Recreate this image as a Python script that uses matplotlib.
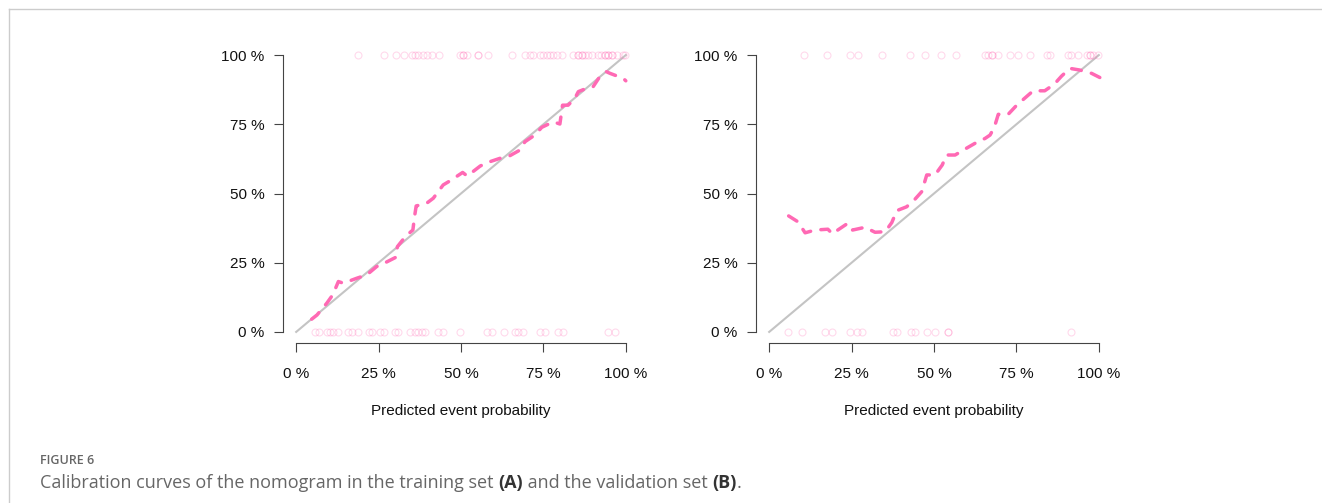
import numpy as np
import matplotlib
matplotlib.use('Agg')
import matplotlib.pyplot as plt
from matplotlib.lines import Line2D

# Training set (A): calibration curve
train_pred = [0.047, 0.063, 0.093, 0.111, 0.128, 0.143, 0.184, 0.214, 0.244, 0.270,
              0.303, 0.307, 0.333, 0.354, 0.359, 0.364, 0.396, 0.416, 0.446, 0.467,
              0.505, 0.519, 0.558, 0.578, 0.618, 0.643, 0.679, 0.694, 0.724, 0.745,
              0.780, 0.800, 0.808, 0.825, 0.845, 0.856, 0.881, 0.901, 0.921, 0.941,
              0.952, 0.992, 1.000]
train_obs = [0.046, 0.061, 0.104, 0.134, 0.182, 0.176, 0.194, 0.206, 0.236, 0.250,
             0.270, 0.308, 0.347, 0.368, 0.416, 0.455, 0.465, 0.483, 0.531, 0.546,
             0.576, 0.563, 0.599, 0.611, 0.627, 0.633, 0.657, 0.687, 0.711, 0.739,
             0.759, 0.751, 0.819, 0.819, 0.843, 0.868, 0.880, 0.886, 0.922, 0.940,
             0.934, 0.916, 0.907]
# Training set: predicted values of events (top rug) and non-events (bottom rug)
train_events = [0.189, 0.267, 0.302, 0.327, 0.351, 0.361, 0.371, 0.384, 0.396, 0.411,
                0.434, 0.497, 0.505, 0.505, 0.517, 0.552, 0.552, 0.583, 0.654, 0.694,
                0.709, 0.719, 0.739, 0.749, 0.760, 0.770, 0.780, 0.790, 0.805, 0.840,
                0.855, 0.855, 0.866, 0.866, 0.876, 0.886, 0.896, 0.916, 0.926, 0.936,
                0.936, 0.946, 0.946, 0.957, 0.957, 0.972, 0.992, 0.997]
train_nonevents = [0.058, 0.068, 0.093, 0.103, 0.113, 0.128, 0.158, 0.168, 0.189, 0.220,
                   0.230, 0.255, 0.265, 0.300, 0.310, 0.345, 0.361, 0.371, 0.381, 0.391,
                   0.431, 0.446, 0.497, 0.578, 0.593, 0.630, 0.664, 0.674, 0.689, 0.739,
                   0.755, 0.795, 0.808, 0.946, 0.967]

# Validation set (B): calibration curve
valid_pred = [0.059, 0.087, 0.109, 0.139, 0.178, 0.192, 0.198, 0.238, 0.253, 0.291,
              0.321, 0.352, 0.372, 0.387, 0.417, 0.442, 0.463, 0.478, 0.503, 0.525,
              0.538, 0.564, 0.589, 0.624, 0.655, 0.670, 0.683, 0.695, 0.725, 0.751,
              0.774, 0.801, 0.836, 0.865, 0.887, 0.912, 0.942, 0.978, 1.003]
valid_obs = [0.419, 0.398, 0.358, 0.368, 0.371, 0.354, 0.360, 0.392, 0.368, 0.378,
             0.360, 0.362, 0.395, 0.438, 0.452, 0.479, 0.507, 0.567, 0.567, 0.603,
             0.639, 0.639, 0.657, 0.681, 0.699, 0.711, 0.739, 0.786, 0.786, 0.819,
             0.843, 0.871, 0.871, 0.895, 0.924, 0.952, 0.946, 0.934, 0.919]
valid_events = [0.107, 0.175, 0.245, 0.269, 0.343, 0.427, 0.473, 0.521, 0.566, 0.655,
                0.665, 0.675, 0.675, 0.695, 0.730, 0.755, 0.791, 0.842, 0.852, 0.907,
                0.915, 0.937, 0.963, 0.973, 0.973, 0.983, 0.998]
valid_nonevents = [0.057, 0.099, 0.170, 0.192, 0.245, 0.266, 0.281, 0.377, 0.387, 0.430,
                   0.442, 0.478, 0.503, 0.541, 0.543, 0.917]

tick_values = [0, 0.25, 0.5, 0.75, 1]
tick_labels = ['0 %', '25 %', '50 %', '75 %', '100 %']

PINK = '#ff69b4'
W, H = 1322, 503

plt.rcParams['font.family'] = ['Liberation Sans', 'DejaVu Sans']


def draw_panel(ax, pred, obs, events, nonevents):
    # ideal line
    ax.plot([0, 1], [0, 1], color='#c4c4c4', lw=1.5, zorder=1)
    # rug of observed outcomes
    ax.plot(events, np.ones(len(events)), 'o', ms=5, mfc='none', mec=PINK,
            mew=0.8, alpha=0.25, clip_on=False, zorder=2)
    ax.plot(nonevents, np.zeros(len(nonevents)), 'o', ms=5, mfc='none', mec=PINK,
            mew=0.8, alpha=0.25, clip_on=False, zorder=2)
    # calibration curve
    ax.plot(pred, obs, color=PINK, lw=2.5, dashes=(2.8, 3.0),
            dash_capstyle='round', solid_capstyle='round', zorder=3)

    ax.set_xlim(-0.04, 1.04)
    ax.set_ylim(-0.04, 1.04)
    for side in ['top', 'right']:
        ax.spines[side].set_visible(False)
    for side in ['left', 'bottom']:
        ax.spines[side].set_bounds(0, 1)
        ax.spines[side].set_linewidth(0.8)
        ax.spines[side].set_color('#444444')
    ax.set_xticks(tick_values)
    ax.set_xticklabels(tick_labels)
    ax.set_yticks(tick_values)
    ax.set_yticklabels(tick_labels)
    ax.tick_params(axis='both', direction='out', length=6.7, width=0.8,
                   color='#444444', labelsize=11, labelcolor='#111111')
    ax.tick_params(axis='x', pad=10.5)
    ax.tick_params(axis='y', pad=6.5)
    ax.set_xlabel('Predicted event probability', fontsize=11, color='#111111',
                  labelpad=16.5)
    ax.patch.set_visible(False)


fig = plt.figure(figsize=(W / 100, H / 100), dpi=100)

ax_a = fig.add_axes([283 / W, 1 - 343 / H, 356 / W, 299 / H])
draw_panel(ax_a, train_pred, train_obs, train_events, train_nonevents)

ax_b = fig.add_axes([756 / W, 1 - 343 / H, 356 / W, 299 / H])
draw_panel(ax_b, valid_pred, valid_obs, valid_events, valid_nonevents)

# page frame
fig.add_artist(Line2D([9 / W, 9 / W], [0, 1 - 9 / H], color='#cccccc', lw=1))
fig.add_artist(Line2D([9 / W, 1], [1 - 9 / H, 1 - 9 / H], color='#cccccc', lw=1))

# caption
fig.text(40 / W, 1 - 460 / H, 'FIGURE 6', fontsize=9, color='#666666',
         family=['Open Sans', 'DejaVu Sans'], fontweight='semibold', va='center')

pieces = [('Calibration curves of the nomogram in the training set ', 'normal', '#666666'),
          ('(A)', 'bold', '#333333'),
          (' and the validation set ', 'normal', '#666666'),
          ('(B)', 'bold', '#333333'),
          ('.', 'normal', '#666666')]
renderer = fig.canvas.get_renderer()
x = 40
for txt, weight, col in pieces:
    t = fig.text(x / W, 1 - 483 / H, txt, fontsize=13, color=col, fontweight=weight,
                 family=['Open Sans', 'DejaVu Sans'], va='center')
    bb = t.get_window_extent(renderer)
    x += bb.width

fig.savefig('out.png', dpi=100)
